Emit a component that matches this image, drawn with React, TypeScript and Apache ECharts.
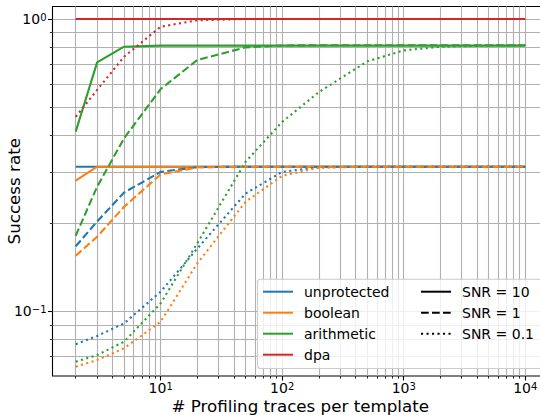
import React, { useEffect, useRef } from 'react';
import * as echarts from 'echarts';

// ---- data ----
const traces = [2, 3, 5, 10, 20, 50, 100, 200, 500, 1000, 2000, 5000, 10000];
const methods = ['unprotected', 'boolean', 'arithmetic', 'dpa'];
const snrLabels = ['SNR = 10', 'SNR = 1', 'SNR = 0.1'];

const unprotectedSnr10 = [0.3125, 0.3125, 0.3125, 0.3125, 0.3125, 0.3125, 0.3125, 0.3125, 0.3125, 0.3125, 0.3125, 0.3125, 0.3125];
const unprotectedSnr1 = [0.167, 0.203, 0.255, 0.3, 0.3115, 0.3125, 0.3125, 0.3125, 0.3125, 0.3125, 0.3125, 0.3125, 0.3125];
const unprotectedSnr01 = [0.0772, 0.0824, 0.091, 0.1168, 0.164, 0.253, 0.3, 0.311, 0.3125, 0.3125, 0.3125, 0.3125, 0.3125];

const booleanSnr10 = [0.28, 0.3125, 0.3125, 0.3125, 0.3125, 0.3125, 0.3125, 0.3125, 0.3125, 0.3125, 0.3125, 0.3125, 0.3125];
const booleanSnr1 = [0.155, 0.18, 0.228, 0.294, 0.311, 0.3125, 0.3125, 0.3125, 0.3125, 0.3125, 0.3125, 0.3125, 0.3125];
const booleanSnr01 = [0.0647, 0.0682, 0.0748, 0.0922, 0.146, 0.237, 0.291, 0.31, 0.3125, 0.3125, 0.3125, 0.3125, 0.3125];

const arithmeticSnr10 = [0.412, 0.711, 0.804, 0.811, 0.811, 0.811, 0.811, 0.811, 0.811, 0.811, 0.811, 0.811, 0.811];
const arithmeticSnr1 = [0.1815, 0.267, 0.391, 0.576, 0.724, 0.8, 0.812, 0.813, 0.813, 0.813, 0.813, 0.813, 0.813];
const arithmeticSnr01 = [0.0673, 0.0709, 0.0788, 0.1066, 0.171, 0.325, 0.445, 0.562, 0.716, 0.781, 0.804, 0.811, 0.813];

const dpaSnr10 = [1, 1, 1, 1, 1, 1, 1, 1, 1, 1, 1, 1, 1];
const dpaSnr1 = [1, 1, 1, 1, 1, 1, 1, 1, 1, 1, 1, 1, 1];
const dpaSnr01 = [0.463, 0.572, 0.743, 0.941, 0.99, 1, 1, 1, 1, 1, 1, 1, 1];

const xMajorTicks = [10, 100, 1000, 10000];
const xMinorTicks = [2, 3, 4, 5, 6, 7, 8, 9, 20, 30, 40, 50, 60, 70, 80, 90, 200, 300, 400, 500, 600, 700, 800, 900, 2000, 3000, 4000, 5000, 6000, 7000, 8000, 9000];
const yMajorTicks = [0.1, 1];
const yMinorTicks = [0.06, 0.07, 0.08, 0.09, 0.2, 0.3, 0.4, 0.5, 0.6, 0.7, 0.8, 0.9];

// ---- styles ----
const colors = ['#1f77b4', '#ff7f0e', '#2ca02c', '#d62728'];
const dashTypes: any[] = ['solid', [7.7, 3.3], [2.1, 3.4]];
const FONT = 'DejaVu Sans';
const LW = 2.08;
const GRID_COLOR = '#b0b0b0';

const seriesData: number[][][] = [
  [unprotectedSnr10, booleanSnr10, arithmeticSnr10, dpaSnr10],
  [unprotectedSnr1, booleanSnr1, arithmeticSnr1, dpaSnr1],
  [unprotectedSnr01, booleanSnr01, arithmeticSnr01, dpaSnr01],
];

const X_MIN = Math.pow(10, 0.11);
const X_MAX = Math.pow(10, 4.187);
const Y_MIN = 0.06013;
const Y_MAX = 1.1035;

function supFormatter(value: number) {
  const e = Math.round(Math.log10(value));
  const s = e < 0 ? '\u2212' + String(-e) : String(e);
  return '{b|10}{s|' + s + '}';
}

const richSup = {
  b: { fontSize: 14, fontFamily: FONT, color: '#000', lineHeight: 14, verticalAlign: 'bottom' },
  s: { fontSize: 10, fontFamily: FONT, color: '#000', lineHeight: 8, verticalAlign: 'top' },
};

export default function App() {
  const ref = useRef<HTMLDivElement>(null);
  useEffect(() => {
    if (!ref.current) return;
    const chart = echarts.init(ref.current, undefined, { renderer: 'svg' });

    const series: any[] = [];
    seriesData.forEach((group, si) => {
      group.forEach((vals, mi) => {
        series.push({
          type: 'line',
          name: methods[mi],
          xAxisIndex: 0,
          yAxisIndex: 0,
          data: traces.map((t, i) => [t, vals[i]]),
          symbol: 'none',
          showSymbol: false,
          color: colors[mi],
          lineStyle: { color: colors[mi], width: LW, type: dashTypes[si], cap: 'butt' },
          z: 2,
        });
      });
    });
    snrLabels.forEach((name, si) => {
      series.push({
        type: 'line',
        name,
        xAxisIndex: 0,
        yAxisIndex: 0,
        data: [],
        symbol: 'none',
        color: '#000',
        lineStyle: { color: '#000', width: 1.5, type: dashTypes[si], cap: 'butt' },
      });
    });

    const tickStyle = { color: '#000', width: 1.1 };
    const minorTickStyle = { color: '#000', width: 0.85 };
    const splitStyle = { color: GRID_COLOR, width: 1.1 };

    const legendCommon = {
      orient: 'vertical',
      top: 284.7,
      padding: 0,
      itemWidth: 30,
      itemHeight: 14,
      itemGap: 7,
      selectedMode: false,
      z: 10,
      itemStyle: { opacity: 0, borderWidth: 0 },
      formatter: (name: string) => '{g|}' + name,
      textStyle: {
        fontFamily: FONT,
        fontSize: 14,
        lineHeight: 14,
        color: '#000',
        rich: { g: { width: 6 } },
      },
    };

    chart.setOption({
      animation: false,
      backgroundColor: '#fff',
      textStyle: { fontFamily: FONT },
      grid: {
        left: 52.5,
        top: 6.5,
        width: 495.5,
        height: 369.5,
        containLabel: false,
        outerBoundsMode: 'none',
        show: true,
        borderColor: '#000',
        borderWidth: 1.1,
        backgroundColor: 'transparent',
      },
      xAxis: [
        {
          type: 'log',
          logBase: 10,
          min: X_MIN,
          max: X_MAX,
          position: 'bottom',
          name: '# Profiling traces per template',
          nameLocation: 'middle',
          nameGap: 21,
          nameMoveOverlap: false,
          nameTextStyle: { fontFamily: FONT, fontSize: 16.7, lineHeight: 17, color: '#000' },
          axisLine: { show: false, onZero: false },
          axisTick: { show: true, customValues: xMajorTicks, length: 4.5, lineStyle: tickStyle },
          axisLabel: { customValues: xMajorTicks, formatter: supFormatter, margin: 5, rich: richSup },
          splitLine: { show: true, lineStyle: splitStyle },
          minorTick: { show: false },
        },
        {
          type: 'log',
          logBase: 10,
          min: X_MIN,
          max: X_MAX,
          position: 'bottom',
          axisLine: { show: false, onZero: false },
          axisTick: { show: true, customValues: xMinorTicks, length: 2.6, lineStyle: minorTickStyle },
          axisLabel: { show: false },
          splitLine: { show: true, lineStyle: splitStyle },
        },
      ],
      yAxis: [
        {
          type: 'log',
          logBase: 10,
          min: Y_MIN,
          max: Y_MAX,
          position: 'left',
          name: 'Success rate',
          nameLocation: 'middle',
          nameGap: 30,
          nameMoveOverlap: false,
          nameTextStyle: { fontFamily: FONT, fontSize: 16.7, color: '#000' },
          axisLine: { show: false, onZero: false },
          axisTick: { show: true, customValues: yMajorTicks, length: 4.5, lineStyle: tickStyle },
          axisLabel: { customValues: yMajorTicks, formatter: supFormatter, margin: 6, rich: richSup },
          splitLine: { show: true, lineStyle: splitStyle },
        },
        {
          type: 'log',
          logBase: 10,
          min: Y_MIN,
          max: Y_MAX,
          position: 'left',
          axisLine: { show: false, onZero: false },
          axisTick: { show: true, customValues: yMinorTicks, length: 2.6, lineStyle: minorTickStyle },
          axisLabel: { show: false },
          splitLine: { show: true, lineStyle: splitStyle },
        },
      ],
      legend: [
        { ...legendCommon, left: 262, data: methods },
        { ...legendCommon, left: 420, data: snrLabels },
      ],
      graphic: [
        {
          type: 'rect',
          z: 5,
          shape: { x: 257.5, y: 279.3, width: 284, height: 89.2, r: 3 },
          style: { fill: 'rgba(255,255,255,0.8)', stroke: '#cccccc', lineWidth: 1.1 },
        },
      ],
      series,
    });

    return () => chart.dispose();
  }, []);

  return (
    <div
      ref={ref}
      style={{ position: 'absolute', left: 0, top: 0, width: 540, height: 415, background: '#fff' }}
    />
  );
}
